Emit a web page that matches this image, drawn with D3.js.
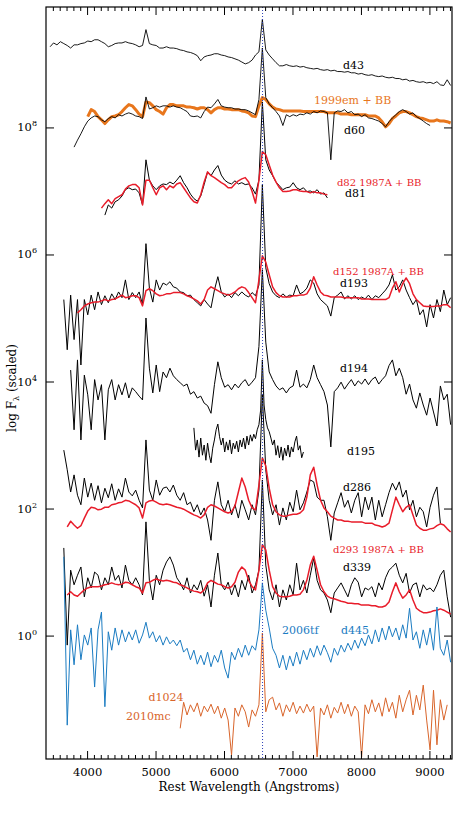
<!DOCTYPE html>
<html>
<head>
<meta charset="UTF-8">
<title>spectra</title>
<style type="text/css">
  body { margin: 0; background: #fff; }
  .chart text { font-family: "DejaVu Serif", serif; }
</style>
</head>
<body>
<div class="chart"></div>
<script src="https://cdn.jsdelivr.net/npm/d3@7/dist/d3.min.js"></script>
<script type="text/javascript">
// log10 flux (scaled) on a regular wavelength grid
var d43Start = 3460;
var d43 = [9.27, 9.33, 9.30, 9.35, 9.32, 9.29, 9.25, 9.30, 9.30, 9.32,
  9.33, 9.36, 9.35, 9.38, 9.38, 9.35, 9.32, 9.27, 9.29, 9.32,
  9.33, 9.33, 9.35, 9.33, 9.32, 9.30, 9.27, 9.29, 9.54, 9.32,
  9.30, 9.29, 9.25, 9.25, 9.27, 9.25, 9.25, 9.24, 9.22, 9.21,
  9.19, 9.18, 9.16, 9.13, 9.05, 9.11, 9.13, 9.14, 9.16, 9.16,
  9.14, 9.13, 9.11, 9.10, 9.08, 9.06, 9.03, 9.00, 9.02, 9.06,
  9.14, 9.19, 9.70, 9.22, 9.14, 9.08, 9.02, 8.97, 8.97, 8.99,
  8.97, 8.96, 8.97, 8.95, 8.96, 8.94, 8.93, 8.92, 8.93, 8.91,
  8.90, 8.91, 8.89, 8.90, 8.88, 8.88, 8.87, 8.88, 8.86, 8.86,
  8.84, 8.85, 8.83, 8.82, 8.83, 8.81, 8.80, 8.81, 8.79, 8.78,
  8.79, 8.77, 8.77, 8.75, 8.76, 8.73, 8.74, 8.72, 8.71, 8.72,
  8.70, 8.71, 8.69, 8.72, 8.67, 8.66, 8.75, 8.66];

var em99Start = 4010;
var em99 = [8.17, 8.28, 8.25, 8.17, 8.12, 8.06, 8.12, 8.17, 8.18, 8.20,
  8.25, 8.31, 8.36, 8.34, 8.28, 8.21, 8.17, 8.40, 8.39, 8.34,
  8.28, 8.25, 8.21, 8.31, 8.36, 8.36, 8.34, 8.34, 8.34, 8.32,
  8.32, 8.31, 8.29, 8.31, 8.31, 8.28, 8.23, 8.28, 8.31, 8.31,
  8.29, 8.29, 8.28, 8.28, 8.28, 8.26, 8.25, 8.23, 8.18, 8.17,
  8.34, 8.47, 8.44, 8.37, 8.32, 8.29, 8.28, 8.26, 8.26, 8.26,
  8.26, 8.26, 8.26, 8.25, 8.25, 8.25, 8.25, 8.25, 8.25, 8.25,
  8.23, 8.23, 8.23, 8.23, 8.21, 8.21, 8.21, 8.20, 8.20, 8.20,
  8.20, 8.20, 8.18, 8.18, 8.18, 8.15, 8.09, 8.01, 8.06, 8.14,
  8.18, 8.23, 8.25, 8.25, 8.23, 8.20, 8.17, 8.15, 8.14, 8.12,
  8.10, 8.10, 8.12, 8.10, 8.10, 8.09, 8.07];

var d60Start = 3810;
var d60 = [7.69, 7.80, 7.90, 8.01, 8.10, 8.15, 8.18, 8.17, 8.12, 8.09,
  8.14, 8.17, 8.15, 8.20, 8.18, 8.21, 8.23, 8.21, 8.18, 8.17,
  8.14, 8.48, 8.29, 8.31, 8.34, 8.32, 8.34, 8.34, 8.32, 8.34,
  8.32, 8.31, 8.28, 8.25, 8.18, 8.17, 8.18, 8.15, 8.25, 8.32,
  8.31, 8.37, 8.44, 8.34, 8.32, 8.31, 8.31, 8.29, 8.29, 8.28,
  8.28, 8.26, 8.23, 8.20, 8.44, 9.25, 8.47, 8.37, 8.31, 8.25,
  8.18, 8.03, 8.20, 8.17, 8.20, 8.18, 8.21, 8.20, 8.23, 8.21,
  8.25, 8.23, 8.26, 8.25, 8.23, 7.49, 8.23, 8.26, 8.25, 8.28,
  8.23, 8.25, 8.20, 8.21, 8.17, 8.20, 8.15, 8.14, 8.12, 8.10,
  8.06, 8.01, 8.09, 8.15, 8.20, 8.25, 8.28, 8.25, 8.21, 8.23,
  8.17, 8.14, 8.10, 8.06, 8.03];

var d81Start = 4260;
var d81 = [6.62, 6.78, 6.73, 6.83, 6.86, 6.92, 7.02, 7.05, 7.02, 7.03,
  6.97, 6.78, 7.49, 7.17, 7.08, 7.02, 7.08, 7.11, 7.10, 7.14,
  7.11, 7.17, 7.24, 7.13, 7.05, 6.95, 6.88, 6.84, 6.92, 7.10,
  7.30, 7.24, 7.33, 7.40, 7.25, 7.17, 7.13, 7.11, 7.16, 7.11,
  7.13, 7.10, 7.11, 7.05, 6.95, 7.17, 8.40, 7.49, 7.33, 7.24,
  7.14, 7.08, 7.02, 7.05, 7.06, 7.13, 7.05, 7.02, 7.05, 6.99,
  7.00, 6.97, 7.02, 6.95, 6.97, 6.89];

var d82Start = 4210;
var d82 = [6.73, 6.80, 6.86, 6.80, 6.88, 6.91, 6.94, 7.03, 7.08, 7.10,
  7.10, 7.05, 6.78, 7.17, 7.17, 7.05, 6.94, 7.05, 7.08, 7.02,
  7.08, 7.05, 7.11, 7.13, 7.05, 6.97, 6.89, 6.83, 6.81, 6.94,
  7.14, 7.30, 7.24, 7.21, 7.17, 7.13, 7.10, 7.05, 7.05, 7.11,
  7.16, 7.19, 7.21, 7.14, 6.99, 6.81, 7.17, 7.62, 7.57, 7.41,
  7.25, 7.14, 7.05, 6.99, 6.99, 7.00, 7.02, 7.02, 7.00, 6.99,
  6.99, 6.97, 6.99, 6.97, 6.97, 6.95, 6.94];

var d152Start = 3860;
var d152 = [5.08, 5.13, 5.19, 5.22, 5.24, 5.25, 5.25, 5.27, 5.29, 5.27,
  5.29, 5.30, 5.33, 5.36, 5.32, 5.33, 5.35, 5.35, 5.32, 5.19,
  5.43, 5.46, 5.43, 5.38, 5.35, 5.36, 5.38, 5.38, 5.40, 5.40,
  5.40, 5.38, 5.35, 5.33, 5.30, 5.27, 5.22, 5.29, 5.44, 5.49,
  5.46, 5.43, 5.40, 5.38, 5.36, 5.38, 5.41, 5.46, 5.49, 5.47,
  5.40, 5.32, 5.24, 5.60, 5.98, 5.88, 5.68, 5.49, 5.40, 5.35,
  5.33, 5.33, 5.33, 5.35, 5.35, 5.36, 5.36, 5.38, 5.47, 5.65,
  5.52, 5.41, 5.36, 5.35, 5.33, 5.33, 5.33, 5.33, 5.32, 5.32,
  5.32, 5.32, 5.32, 5.30, 5.30, 5.30, 5.29, 5.29, 5.29, 5.29,
  5.29, 5.32, 5.47, 5.57, 5.41, 5.54, 5.63, 5.54, 5.38, 5.29,
  5.24, 5.19, 5.18, 5.18, 5.18, 5.19, 5.19, 5.21, 5.21, 5.16];

var d193Start = 3660;
var d193 = [5.29, 4.50, 5.36, 4.66, 5.29, 4.26, 5.29, 5.05, 5.36, 5.13,
  5.41, 5.21, 5.35, 5.24, 5.38, 5.29, 5.41, 5.32, 5.60, 5.29,
  5.40, 5.32, 5.41, 5.21, 6.17, 5.47, 5.25, 5.60, 5.44, 5.55,
  5.52, 5.57, 5.49, 5.47, 5.41, 5.40, 5.35, 5.36, 5.29, 5.24,
  5.19, 5.29, 5.22, 5.16, 5.44, 5.65, 5.41, 5.33, 5.38, 5.32,
  5.40, 5.35, 5.41, 5.36, 5.33, 5.40, 5.35, 5.52, 7.10, 5.79,
  5.54, 5.41, 5.35, 5.32, 5.38, 5.33, 5.36, 5.35, 5.52, 5.38,
  5.41, 5.47, 5.60, 5.55, 5.38, 5.29, 5.24, 5.19, 5.03, 5.32,
  5.36, 5.41, 5.30, 5.35, 5.30, 5.35, 5.29, 5.33, 5.30, 5.36,
  5.29, 5.35, 5.32, 5.38, 5.44, 5.52, 5.68, 5.44, 5.49, 5.60,
  5.44, 5.32, 5.21, 5.29, 5.05, 5.13, 4.86, 5.21, 5.00, 5.29,
  5.10, 5.44, 5.21, 5.32];

var d194Start = 3760;
var d194 = [4.18, 3.24, 4.34, 3.08, 4.10, 3.79, 3.24, 4.03, 3.71, 3.95,
  3.08, 3.87, 4.03, 3.71, 3.95, 3.79, 3.98, 3.74, 3.90, 3.84,
  3.77, 3.71, 5.00, 4.21, 3.82, 4.26, 3.84, 4.15, 4.06, 4.21,
  4.09, 4.03, 3.98, 3.93, 3.96, 3.80, 3.84, 3.74, 3.77, 3.66,
  3.62, 3.50, 3.95, 4.31, 4.06, 3.91, 3.95, 3.87, 3.96, 3.90,
  3.98, 4.03, 3.93, 3.99, 4.06, 4.55, 5.76, 4.62, 4.15, 4.03,
  3.93, 3.87, 3.90, 3.82, 3.90, 3.93, 4.18, 3.91, 3.96, 3.90,
  4.03, 4.26, 4.06, 3.95, 3.84, 3.63, 2.97, 3.84, 3.90, 3.99,
  3.88, 3.96, 4.03, 3.93, 4.01, 3.96, 4.04, 3.95, 4.03, 4.07,
  3.96, 4.03, 4.09, 4.25, 4.34, 4.09, 4.21, 4.06, 3.80, 3.96,
  3.71, 3.58, 3.82, 3.63, 3.47, 3.74, 3.52, 3.30, 3.93, 3.71,
  3.80, 3.32];

// d195 is sampled every 25 A
var d195Start = 5560;
var d195 = [3.27, 2.92, 3.08, 2.81, 3.11, 2.84, 3.00, 2.76, 3.03, 2.84,
  2.72, 2.95, 3.08, 3.24, 3.33, 3.13, 3.00, 3.11, 2.89, 3.05,
  2.92, 3.08, 2.86, 3.03, 2.94, 3.06, 2.89, 3.08, 2.97, 3.11,
  2.94, 3.14, 3.00, 3.16, 3.06, 3.17, 3.10, 3.24, 3.32, 3.55,
  4.34, 3.63, 3.40, 3.27, 3.21, 3.11, 3.00, 3.08, 2.84, 2.99,
  2.80, 2.97, 2.76, 2.95, 2.83, 3.00, 2.81, 2.97, 2.89, 3.05,
  3.14, 2.92, 2.99, 2.80, 2.89];

var d286Start = 3660;
var d286 = [2.92, 2.61, 2.26, 2.53, 2.21, 2.06, 2.48, 2.18, 2.40, 2.13,
  2.36, 2.09, 2.32, 2.17, 2.39, 2.13, 2.31, 2.18, 2.48, 2.26,
  2.20, 2.29, 2.13, 2.01, 3.08, 2.29, 2.13, 2.45, 2.21, 2.32,
  2.34, 2.26, 2.37, 2.21, 2.13, 2.25, 2.06, 2.10, 1.95, 2.06,
  1.90, 2.01, 1.82, 1.50, 2.13, 2.42, 2.06, 1.95, 2.13, 1.90,
  2.06, 1.85, 2.13, 1.98, 1.82, 2.06, 1.90, 2.29, 3.79, 2.61,
  2.13, 1.90, 2.06, 1.74, 2.01, 1.82, 2.10, 1.95, 2.29, 1.98,
  2.09, 2.26, 2.45, 2.42, 2.18, 2.13, 2.13, 1.87, 1.50, 1.93,
  2.09, 2.25, 2.02, 2.13, 1.93, 2.13, 2.25, 1.87, 2.18, 1.98,
  2.18, 1.82, 2.13, 1.87, 2.06, 2.25, 2.40, 2.29, 2.42, 2.18,
  2.29, 1.98, 2.13, 1.87, 2.02, 1.95, 1.71, 2.02, 2.21, 2.34,
  1.77];

var d293aStart = 3710;
var d293a = [1.71, 1.80, 1.74, 1.69, 1.73, 1.85, 1.96, 2.02, 2.01, 1.98,
  1.99, 2.02, 2.02, 2.06, 2.07, 2.09, 2.10, 2.13, 2.12, 2.09,
  2.06, 2.01, 1.85, 2.09, 2.12, 2.13, 2.10, 2.07, 2.06, 2.07,
  2.06, 2.04, 2.02, 2.01, 1.99, 1.96, 1.93, 1.90, 1.88, 1.85,
  1.90, 2.02, 2.06, 2.04, 2.01, 1.98, 1.95, 1.93, 1.95, 2.04,
  2.26, 2.48, 2.34, 2.13, 2.01, 1.98, 2.37, 2.80, 2.67, 2.32,
  2.06, 1.95, 1.90, 1.88, 1.88, 1.90, 1.91, 1.91, 1.93, 1.98,
  2.18, 2.53, 2.65, 2.37, 2.13, 2.01, 1.95, 1.88, 1.85, 1.82,
  1.82, 1.80, 1.80, 1.79, 1.79, 1.79, 1.79, 1.77, 1.77, 1.77,
  1.74, 1.73, 1.71, 1.73, 1.77, 1.98, 2.18, 2.06, 1.95, 2.02,
  2.06, 1.90, 1.74, 1.69, 1.66, 1.66, 1.68, 1.69, 1.73, 1.76,
  1.74, 1.68, 1.63];

var d339Start = 3660;
var d339 = [1.38, -0.15, 1.03, 0.80, 0.95, 1.08, 0.61, 0.91, 0.75, 1.00,
  0.95, 0.72, 0.91, 0.80, 1.08, 0.87, 0.95, 0.75, 1.11, 0.87,
  0.80, 0.91, 0.80, 0.64, 1.79, 0.87, 0.56, 0.95, 0.80, 1.03,
  1.16, 1.24, 1.11, 0.91, 0.83, 0.72, 0.91, 0.67, 0.80, 0.72,
  0.87, 0.62, 0.80, 0.45, 0.95, 1.30, 0.80, 0.72, 0.84, 0.64,
  0.80, 0.61, 0.87, 0.72, 0.95, 0.67, 0.80, 1.03, 2.45, 1.11,
  0.72, 0.56, 0.80, 0.45, 0.72, 0.56, 0.80, 0.64, 1.14, 0.72,
  0.87, 0.67, 0.95, 1.22, 0.87, 0.72, 0.67, 0.56, 0.36, 0.67,
  0.75, 0.83, 0.72, 0.61, 0.80, 0.91, 0.84, 0.61, 0.75, 0.72,
  0.77, 0.61, 0.83, 0.72, 0.91, 1.03, 1.08, 1.14, 0.95, 0.83,
  0.98, 0.67, 0.80, 0.83, 0.61, 0.80, 0.72, 0.75, 0.69, 0.80,
  0.95, 1.03, 0.61, 0.29];

var d293bStart = 3710;
var d293b = [0.64, 0.69, 0.64, 0.62, 0.67, 0.72, 0.75, 0.77, 0.77, 0.77,
  0.78, 0.80, 0.81, 0.83, 0.81, 0.80, 0.81, 0.84, 0.83, 0.80,
  0.77, 0.75, 0.67, 0.83, 0.84, 0.87, 0.89, 0.87, 0.86, 0.87,
  0.86, 0.84, 0.83, 0.80, 0.78, 0.75, 0.72, 0.70, 0.69, 0.67,
  0.72, 0.83, 0.87, 0.84, 0.81, 0.80, 0.77, 0.75, 0.77, 0.84,
  1.00, 1.08, 1.03, 0.87, 0.77, 0.72, 1.03, 1.43, 1.35, 1.03,
  0.77, 0.67, 0.62, 0.61, 0.61, 0.62, 0.64, 0.64, 0.65, 0.72,
  0.87, 1.11, 1.25, 1.03, 0.80, 0.69, 0.62, 0.59, 0.58, 0.56,
  0.54, 0.53, 0.51, 0.51, 0.50, 0.50, 0.48, 0.48, 0.48, 0.47,
  0.47, 0.45, 0.45, 0.47, 0.53, 0.69, 0.83, 0.69, 0.59, 0.64,
  0.72, 0.56, 0.43, 0.39, 0.36, 0.36, 0.37, 0.39, 0.40, 0.42,
  0.40, 0.37, 0.34];

var d445Start = 3660;
var d445 = [1.24, -1.41, 0.09, -0.46, 0.17, -0.38, 0.01, -0.15, 0.12, -0.81,
  0.09, 0.37, -1.12, 0.06, -0.23, 0.12, -0.15, 0.09, -0.10, 0.06,
  -0.07, 0.09, -0.12, 0.01, 0.21, -0.04, 0.06, -0.10, 0.00, -0.15,
  -0.02, -0.13, -0.07, -0.16, -0.07, -0.26, -0.20, -0.38, -0.23, -0.45,
  -0.31, -0.46, -0.26, -0.49, -0.31, -0.42, -0.23, -0.51, -0.67, -0.26,
  -0.38, -0.20, -0.34, -0.15, -0.31, -0.16, -0.23, 0.09, 0.83, 0.40,
  0.12, -0.20, -0.31, -0.51, -0.31, -0.54, -0.32, -0.48, -0.26, -0.45,
  -0.23, -0.38, -0.20, -0.34, -0.16, -0.31, -0.15, -0.27, -0.42, -0.20,
  -0.31, -0.15, -0.26, -0.12, -0.23, -0.07, -0.20, -0.04, -0.16, 0.01,
  -0.13, 0.09, -0.10, 0.12, -0.07, 0.15, -0.02, 0.12, -0.07, 0.17,
  -0.04, 0.43, -0.07, 0.06, -0.20, 0.09, -0.15, 0.12, -0.23, 0.45,
  -0.20, -0.31, -0.07, -0.42];

var mc10Start = 5360;
var mc10 = [-1.46, -1.05, -1.25, -1.09, -1.20, -1.06, -1.27, -1.11, -1.20, -1.08,
  -1.23, -1.11, -1.30, -1.14, -1.33, -1.88, -1.14, -1.27, -1.09, -1.20,
  -1.44, -1.17, -1.27, -1.09, 0.04, -1.20, -1.01, -0.97, -1.17, -1.06,
  -1.27, -1.09, -1.20, -1.05, -1.23, -1.11, -1.22, -1.08, -1.20, -1.11,
  -1.91, -1.14, -1.25, -1.09, -1.30, -1.13, -1.22, -1.05, -1.23, -1.08,
  -1.27, -1.11, -1.20, -1.91, -1.09, -1.23, -1.01, -1.20, -1.06, -1.27,
  -0.98, -1.20, -1.05, -1.30, -0.94, -1.20, -1.01, -0.86, -1.25, -0.94,
  -1.17, -0.78, -1.33, -1.80, -0.86, -1.72, -1.01, -1.33, -1.09];

var xMajor = [4000, 5000, 6000, 7000, 8000, 9000];
var yMajorExp = [0, 2, 4, 6, 8];
var halpha = 6563;

// ---------- layout ----------
var width = 457, height = 817;
var plotL = 46, plotR = 452, plotT = 7, plotB = 759;

var x = d3.scaleLinear().domain([3400, 9330]).range([plotL, plotR]);
var y = d3.scaleLog().domain([Math.pow(10, -1.943), Math.pow(10, 9.896)]).range([plotB, plotT]);

var svg = d3.select(".chart").append("svg")
  .attr("width", width)
  .attr("height", height);

svg.append("clipPath").attr("id", "plotClip").append("rect")
  .attr("x", plotL).attr("y", plotT)
  .attr("width", plotR - plotL).attr("height", plotB - plotT);

function spectrum(start, step, flux) {
  return flux.map(function(v, i) { return [start + i * step, v]; });
}

var line = d3.line()
  .x(function(d) { return x(d[0]); })
  .y(function(d) { return y(Math.pow(10, d[1])); });

var BLACK = "#000", ORANGE = "#e8761c", RED = "#e81c2a", BLUE = "#1b7cc2", RUST = "#d9652b";

var series = [
  {flux: d43, start: d43Start, step: 50, color: BLACK, w: 0.9},
  {flux: em99, start: em99Start, step: 50, color: ORANGE, w: 3},
  {flux: d60, start: d60Start, step: 50, color: BLACK, w: 0.9},
  {flux: d81, start: d81Start, step: 50, color: BLACK, w: 1},
  {flux: d82, start: d82Start, step: 50, color: RED, w: 1.5},
  {flux: d193, start: d193Start, step: 50, color: BLACK, w: 1},
  {flux: d152, start: d152Start, step: 50, color: RED, w: 1.5},
  {flux: d194, start: d194Start, step: 50, color: BLACK, w: 1},
  {flux: d195, start: d195Start, step: 25, color: BLACK, w: 1},
  {flux: d286, start: d286Start, step: 50, color: BLACK, w: 1},
  {flux: d293a, start: d293aStart, step: 50, color: RED, w: 1.5},
  {flux: d339, start: d339Start, step: 50, color: BLACK, w: 1},
  {flux: d293b, start: d293bStart, step: 50, color: RED, w: 1.5},
  {flux: d445, start: d445Start, step: 50, color: BLUE, w: 1},
  {flux: mc10, start: mc10Start, step: 50, color: RUST, w: 1}
];

var plot = svg.append("g").attr("clip-path", "url(#plotClip)");

plot.selectAll("path.spec")
  .data(series)
  .enter()
  .append("path")
  .attr("class", "spec")
  .attr("d", function(s) { return line(spectrum(s.start, s.step, s.flux)); })
  .attr("fill", "none")
  .attr("stroke", function(s) { return s.color; })
  .attr("stroke-width", function(s) { return s.w; })
  .attr("stroke-linejoin", "round");

// H-alpha rest wavelength
plot.append("line")
  .attr("x1", x(halpha)).attr("x2", x(halpha))
  .attr("y1", plotT).attr("y2", plotB)
  .attr("stroke", "#2c3fb8")
  .attr("stroke-width", 1)
  .attr("stroke-dasharray", "1,2");

// ---------- axes ----------
var xMinor = d3.range(3500, 9400, 100).filter(function(v) { return v % 1000 !== 0 && v <= 9330; });
var yMajor = yMajorExp.map(function(e) { return Math.pow(10, e); });

function clean(g) {
  g.select(".domain").remove();
  g.selectAll("line").attr("stroke", "#000");
}

svg.append("g").attr("transform", "translate(0," + plotB + ")")
  .call(d3.axisBottom(x).tickValues(xMinor).tickSize(-4).tickFormat(""))
  .call(clean);
svg.append("g").attr("transform", "translate(0," + plotT + ")")
  .call(d3.axisTop(x).tickValues(xMinor).tickSize(-4).tickFormat(""))
  .call(clean);
svg.append("g").attr("transform", "translate(0," + plotT + ")")
  .call(d3.axisTop(x).tickValues(xMajor).tickSize(-8).tickFormat(""))
  .call(clean);

var xAxis = svg.append("g").attr("transform", "translate(0," + plotB + ")")
  .call(d3.axisBottom(x).tickValues(xMajor).tickSize(-8).tickPadding(9).tickFormat(d3.format("d")))
  .call(clean);
xAxis.selectAll("text")
  .attr("font-family", "DejaVu Serif, serif")
  .attr("font-size", 11.5)
  .attr("fill", "#000");

svg.append("g").attr("transform", "translate(" + plotL + ",0)")
  .call(d3.axisLeft(y).tickValues(yMajor).tickSize(-8).tickFormat(""))
  .call(clean);
svg.append("g").attr("transform", "translate(" + plotR + ",0)")
  .call(d3.axisRight(y).tickValues(yMajor).tickSize(-8).tickFormat(""))
  .call(clean);

// y tick labels as 10^n
var yLab = svg.append("g").selectAll("text")
  .data(yMajorExp)
  .enter()
  .append("text")
  .attr("x", plotL - 9)
  .attr("y", function(e) { return y(Math.pow(10, e)) + 4; })
  .attr("text-anchor", "end")
  .attr("font-size", 11.5)
  .attr("fill", "#000");
yLab.append("tspan").text("10");
yLab.append("tspan").attr("dy", -5).attr("font-size", 8).text(function(e) { return e; });

svg.append("rect")
  .attr("x", plotL).attr("y", plotT)
  .attr("width", plotR - plotL).attr("height", plotB - plotT)
  .attr("fill", "none").attr("stroke", "#000").attr("stroke-width", 1.2);

// axis titles
svg.append("text")
  .attr("x", (plotL + plotR) / 2)
  .attr("y", 791)
  .attr("text-anchor", "middle")
  .attr("font-size", 12)
  .attr("fill", "#000")
  .text("Rest Wavelength (Angstroms)");

var yTitle = svg.append("text")
  .attr("transform", "translate(16,388) rotate(-90)")
  .attr("text-anchor", "middle")
  .attr("font-size", 12)
  .attr("fill", "#000");
yTitle.append("tspan").text("log F");
yTitle.append("tspan").attr("font-size", 8).attr("dy", 3).text("λ");
yTitle.append("tspan").attr("dy", -3).text(" (scaled)");

// ---------- spectrum labels ----------
var labels = [
  {t: "d43", w: 7738, f: 8.92, c: BLACK, s: 11},
  {t: "1999em + BB", w: 7314, f: 8.37, c: ORANGE, s: 11},
  {t: "d60", w: 7752, f: 7.90, c: BLACK, s: 11},
  {t: "d82 1987A + BB", w: 7650, f: 7.08, c: RED, s: 10},
  {t: "d81", w: 7767, f: 6.91, c: BLACK, s: 11},
  {t: "d152 1987A + BB", w: 7592, f: 5.68, c: RED, s: 10},
  {t: "d193", w: 7694, f: 5.49, c: BLACK, s: 11},
  {t: "d194", w: 7694, f: 4.15, c: BLACK, s: 11},
  {t: "d195", w: 7796, f: 2.85, c: BLACK, s: 11},
  {t: "d286", w: 7738, f: 2.28, c: BLACK, s: 11},
  {t: "d293 1987A + BB", w: 7592, f: 1.30, c: RED, s: 10},
  {t: "d339", w: 7738, f: 1.02, c: BLACK, s: 11},
  {t: "2006tf", w: 6847, f: 0.03, c: BLUE, s: 11},
  {t: "d445", w: 7709, f: 0.03, c: BLUE, s: 11},
  {t: "d1024", w: 4898, f: -1.03, c: RUST, s: 11},
  {t: "2010mc", w: 4569, f: -1.33, c: RUST, s: 11}
];

svg.append("g").selectAll("text")
  .data(labels)
  .enter()
  .append("text")
  .attr("x", function(d) { return x(d.w); })
  .attr("y", function(d) { return y(Math.pow(10, d.f)); })
  .attr("font-size", function(d) { return d.s; })
  .attr("fill", function(d) { return d.c; })
  .text(function(d) { return d.t; });
</script>
</body>
</html>
